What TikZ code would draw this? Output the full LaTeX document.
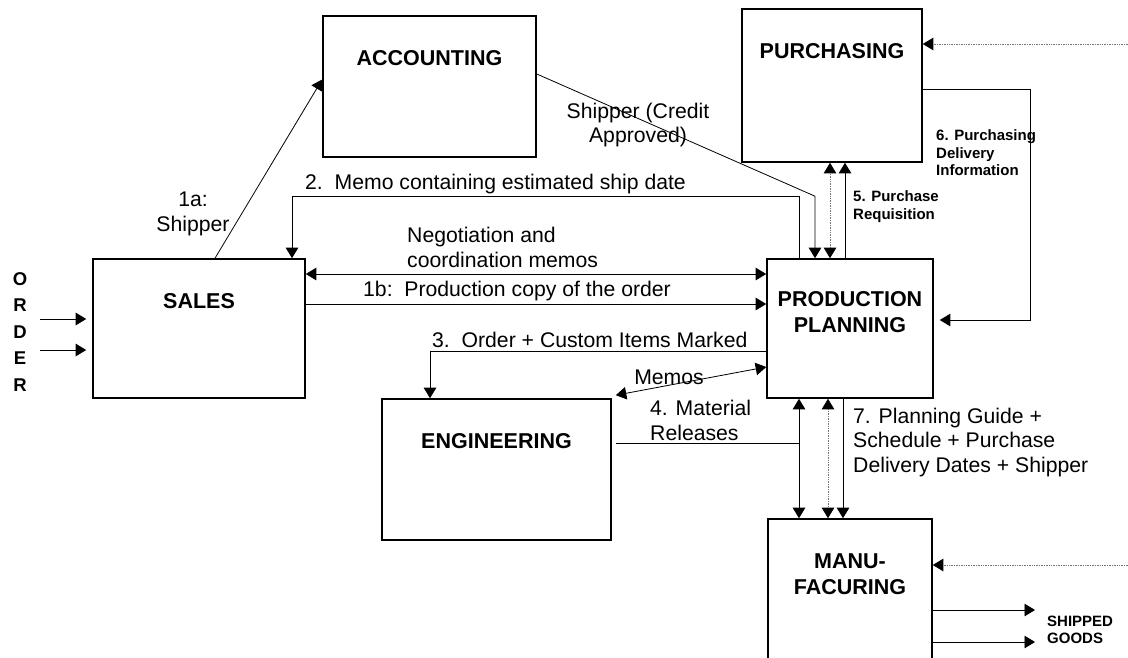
\documentclass[tikz,border=0pt]{standalone}
\usepackage{fontspec}
\setmainfont{Liberation Sans}
\usetikzlibrary{arrows.meta, positioning}

\begin{document}
\begin{tikzpicture}[x=1pt, y=1pt,
    >={Triangle[length=10.5pt,width=12.5pt,color=black]},
    box/.style={draw, line width=1.6pt, inner sep=0pt},
    boxtext/.style={font=\fontsize{21.5}{26}\selectfont\bfseries, align=center, inner sep=0pt, anchor=north},
    lbl/.style={font=\fontsize{21.2}{24.8}\selectfont, align=left, inner sep=0pt},
    note/.style={font=\fontsize{15}{17.5}\selectfont\bfseries, align=left, inner sep=0pt},
    link/.style={line width=0.8pt},
    dots/.style={densely dotted, line width=0.7pt, draw=black!55}]
    \useasboundingbox (0,0) rectangle (1128,-657);
    \clip (0,0) rectangle (1128,-657);
    % departments
    \node[box, minimum width=212pt, minimum height=139pt] (sales) at (199,-328.5) {};
    \node[box, minimum width=213pt, minimum height=141pt] (acct) at (429.5,-86.5) {};
    \node[box, minimum width=180pt, minimum height=153pt] (purch) at (832,-85.5) {};
    \node[box, minimum width=166pt, minimum height=139pt] (plan) at (850,-328.5) {};
    \node[box, minimum width=229pt, minimum height=141pt] (eng) at (496.5,-469.5) {};
    \node[box, minimum width=164pt, minimum height=160pt] (mfg) at (850,-599) {};
    \node[boxtext, below=35pt of sales.north] (sales-t) {SALES};
    \node[boxtext, below=35pt of acct.north] (acct-t) {ACCOUNTING};
    \node[boxtext, below=35pt of purch.north] (purch-t) {PURCHASING};
    \node[boxtext, below=33pt of plan.north] (plan-t) {PRODUCTION\\PLANNING};
    \node[boxtext, below=35pt of eng.north] (eng-t) {ENGINEERING};
    \node[boxtext, below=35pt of mfg.north] (mfg-t) {MANU-\\FACURING};
    % incoming order
    \node[font=\fontsize{18.5}{26.5}\selectfont\bfseries, align=center, inner sep=0pt] (order) at (20,-332) {O\\R\\D\\E\\R};
    \coordinate (o1) at (40,-319);
    \coordinate (o2) at (40,-350);
    \draw[->, link, shorten >=6pt] (o1) -- (o1 -| sales.west);
    \draw[->, link, shorten >=6pt] (o2) -- (o2 -| sales.west);
    % sales and accounting
    \draw[->, link] ([xshift=16pt]sales.north) -- ([yshift=7pt]acct.west);
    \node[lbl, align=center] (l1a) at (193,-214) {1a:\\Shipper};
    \draw[->, link] ([yshift=12.5pt]acct.east) -- ([xshift=-35pt,yshift=62pt]plan.north) -- ([xshift=-35pt]plan.north);
    \node[lbl, align=center] (lcredit) at (638,-125) {Shipper (Credit\\Approved)};
    % purchasing
    \draw[<->, dots] ([xshift=-20pt]plan.north) -- ([xshift=-20pt]plan.north |- purch.south);
    \draw[->, link] ([xshift=-5pt]plan.north) -- ([xshift=-5pt]plan.north |- purch.south);
    \node[note, anchor=west] (l5) at (853,-206.5) {5. Purchase\\Requisition};
    \draw[->, link, shorten >=6pt] ([yshift=-3.5pt]purch.east) -- ++(108,0) |- ([yshift=8.5pt]plan.east);
    \node[note, anchor=west] (l6) at (936,-153) {6. Purchasing\\Delivery\\Information};
    \coordinate (pin) at (1128,-44);
    \draw[->, dots] (pin) -- (pin -| purch.east);
    % sales and production planning
    \draw[->, link] ([xshift=-51pt]plan.north) -- ++(0,62) -| ([xshift=93pt]sales.north);
    \node[lbl, anchor=west] (l2) at (305,-184) {2.\ \ Memo containing estimated ship date};
    \draw[<->, link] ([yshift=54.5pt]sales.east) -- ([yshift=54.5pt]sales.east -| plan.west);
    \node[lbl, anchor=west] (lneg) at (407,-247.5) {Negotiation and\\coordination memos};
    \draw[->, link] ([yshift=24.5pt]sales.east) -- ([yshift=24.5pt]sales.east -| plan.west);
    \node[lbl, anchor=west] (l1b) at (363,-291) {1b:\ \ Production copy of the order};
    % engineering
    \draw[->, link] ([yshift=-22.5pt]plan.west) -| ([xshift=-66.5pt]eng.north);
    \node[lbl, anchor=west] (l3) at (432,-340) {3.\ \ Order + Custom Items Marked};
    \draw[<->, link] ([shift={(4pt,3pt)}]eng.north east) -- ([yshift=-38.5pt]plan.west);
    \node[lbl] (lmemo) at (669,-377) {Memos};
    % manufacturing
    \coordinate (d1) at ([xshift=-51pt]plan.south);
    \coordinate (d2) at ([xshift=-22pt]plan.south);
    \coordinate (d3) at ([xshift=-7pt]plan.south);
    \draw[<->, link] (d1) -- (d1 |- mfg.north);
    \draw[<->, dots] (d2) -- (d2 |- mfg.north);
    \draw[->, link] (d3) -- (d3 |- mfg.north);
    \draw[link] ([xshift=4pt,yshift=26.5pt]eng.east) -- ([yshift=26.5pt]eng.east -| d1);
    \node[lbl, anchor=west] (l4) at (650,-420.5) {4. Material\\Releases};
    \node[lbl, anchor=west] (l7) at (853,-442.5) {7. Planning Guide +\\Schedule + Purchase\\Delivery Dates + Shipper};
    \coordinate (min) at (1128,-565);
    \draw[->, dots] (min) -- (min -| mfg.east);
    \coordinate (s1) at (1035,-610);
    \coordinate (s2) at (1035,-642);
    \draw[->, link] (s1 -| mfg.east) -- (s1);
    \draw[->, link] (s2 -| mfg.east) -- (s2);
    \node[note, anchor=west] (lship) at (1047,-630) {SHIPPED\\GOODS};
\end{tikzpicture}
\end{document}
